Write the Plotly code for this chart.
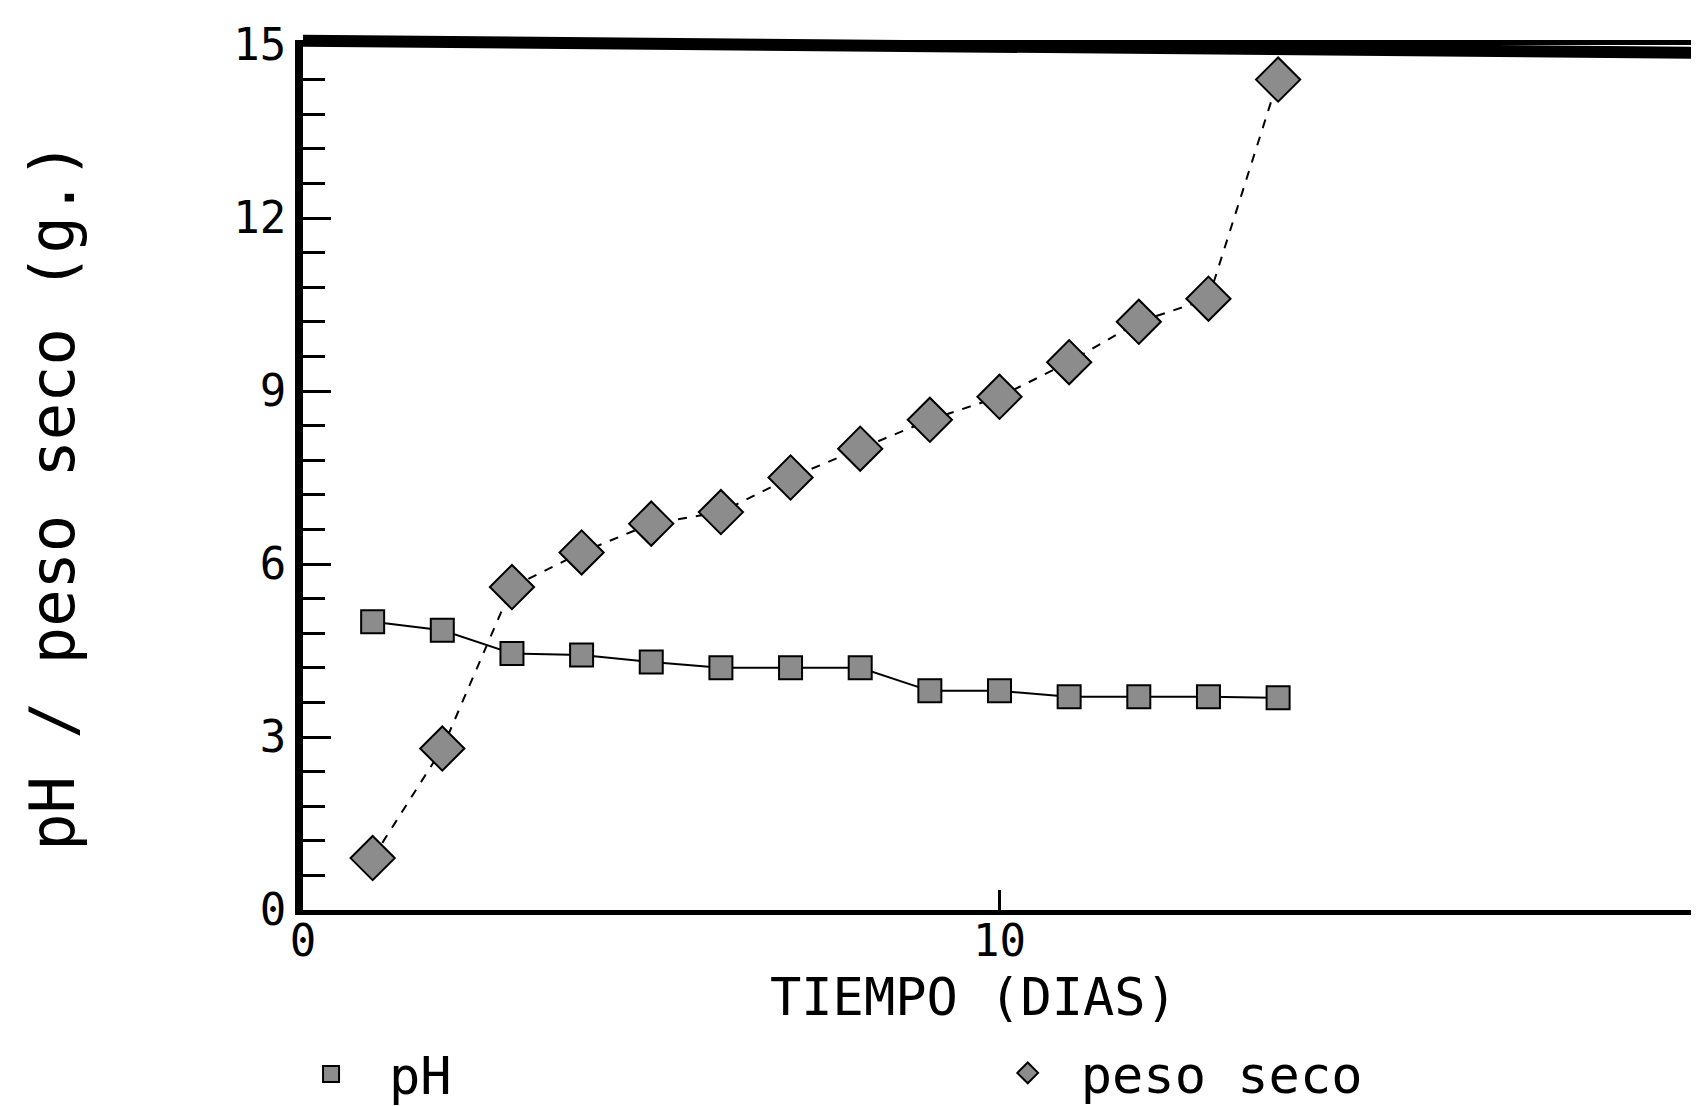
import plotly.graph_objects as go

# Data
dias = [1, 2, 3, 4, 5, 6, 7, 8, 9, 10, 11, 12, 13, 14]
ph = [5.0, 4.85, 4.45, 4.42, 4.3, 4.2, 4.2, 4.2, 3.8, 3.8, 3.7, 3.7, 3.7, 3.68]
peso_seco = [0.9, 2.8, 5.6, 6.2, 6.7, 6.9, 7.5, 8.0, 8.5, 8.9, 9.5, 10.2, 10.6, 14.4]

x_ticks = [0, 10]
y_ticks = [0, 3, 6, 9, 12, 15]

FONT = "DejaVu Sans Mono"
GRAY = "#8c8c8c"

fig = go.Figure()
# connecting lines
fig.add_trace(go.Scatter(x=dias, y=ph, mode="lines", showlegend=False,
                         line=dict(color="black", width=2)))
fig.add_trace(go.Scatter(x=dias, y=peso_seco, mode="lines", showlegend=False,
                         line=dict(color="black", width=2, dash="dash")))
# markers (also used for the legends)
fig.add_trace(go.Scatter(
    x=dias, y=ph, name="pH", mode="markers", legend="legend",
    marker=dict(symbol="square", size=23, color=GRAY, line=dict(color="black", width=2)),
))
fig.add_trace(go.Scatter(
    x=dias, y=peso_seco, name="peso seco", mode="markers", legend="legend2",
    marker=dict(symbol="diamond", size=34, color=GRAY, line=dict(color="black", width=2)),
))

legend_common = dict(orientation="h", xref="container", yref="container",
                     xanchor="left", yanchor="middle",
                     font=dict(family=FONT, size=52), bgcolor="rgba(0,0,0,0)")

fig.update_layout(
    width=1699, height=1106,
    margin=dict(l=295, r=11, t=37, b=204, autoexpand=False),
    paper_bgcolor="white", plot_bgcolor="white",
    font=dict(family=FONT, color="black", size=44),
    showlegend=True,
    legend=dict(x=0.156, y=0.036, itemwidth=106, **legend_common),
    legend2=dict(x=0.569, y=0.037, itemwidth=96, **legend_common),
    xaxis=dict(range=[0, 20], tickvals=x_ticks, ticktext=[str(v) for v in x_ticks],
               ticks="inside", ticklen=20, tickwidth=3, tickcolor="black",
               showline=True, linecolor="black", linewidth=5, mirror=True,
               showgrid=False, zeroline=False, ticklabelstandoff=-12,
               tickfont=dict(family=FONT, size=44)),
    yaxis=dict(range=[0, 15], tickvals=y_ticks, ticktext=[str(v) for v in y_ticks],
               ticks="inside", ticklen=28, tickwidth=3, tickcolor="black",
               minor=dict(dtick=0.6, tick0=0, ticks="inside", ticklen=22, tickwidth=3, tickcolor="black"),
               showline=True, linecolor="black", linewidth=8, mirror=True,
               showgrid=False, zeroline=False,
               tickfont=dict(family=FONT, size=44)),
)

fig.add_annotation(text="TIEMPO (DIAS)", xref="paper", yref="paper",
                   x=0.481, y=-0.100, showarrow=False,
                   font=dict(family=FONT, size=52), xanchor="center", yanchor="middle")
fig.add_annotation(text="pH / peso seco (g.)", xref="paper", yref="paper",
                   x=-0.180, y=0.478, showarrow=False, textangle=-90,
                   font=dict(family=FONT, size=62), xanchor="center", yanchor="middle")

# thick frame edges (top and right)
fig.add_shape(type="line", xref="paper", yref="paper", x0=0, x1=1, y0=1.005, y1=0.991,
              line=dict(color="black", width=12))
fig.add_shape(type="line", xref="paper", yref="paper", x0=1.0, x1=1.0, y0=0.99, y1=0,
              line=dict(color="black", width=10))

fig.write_html("out.html")
